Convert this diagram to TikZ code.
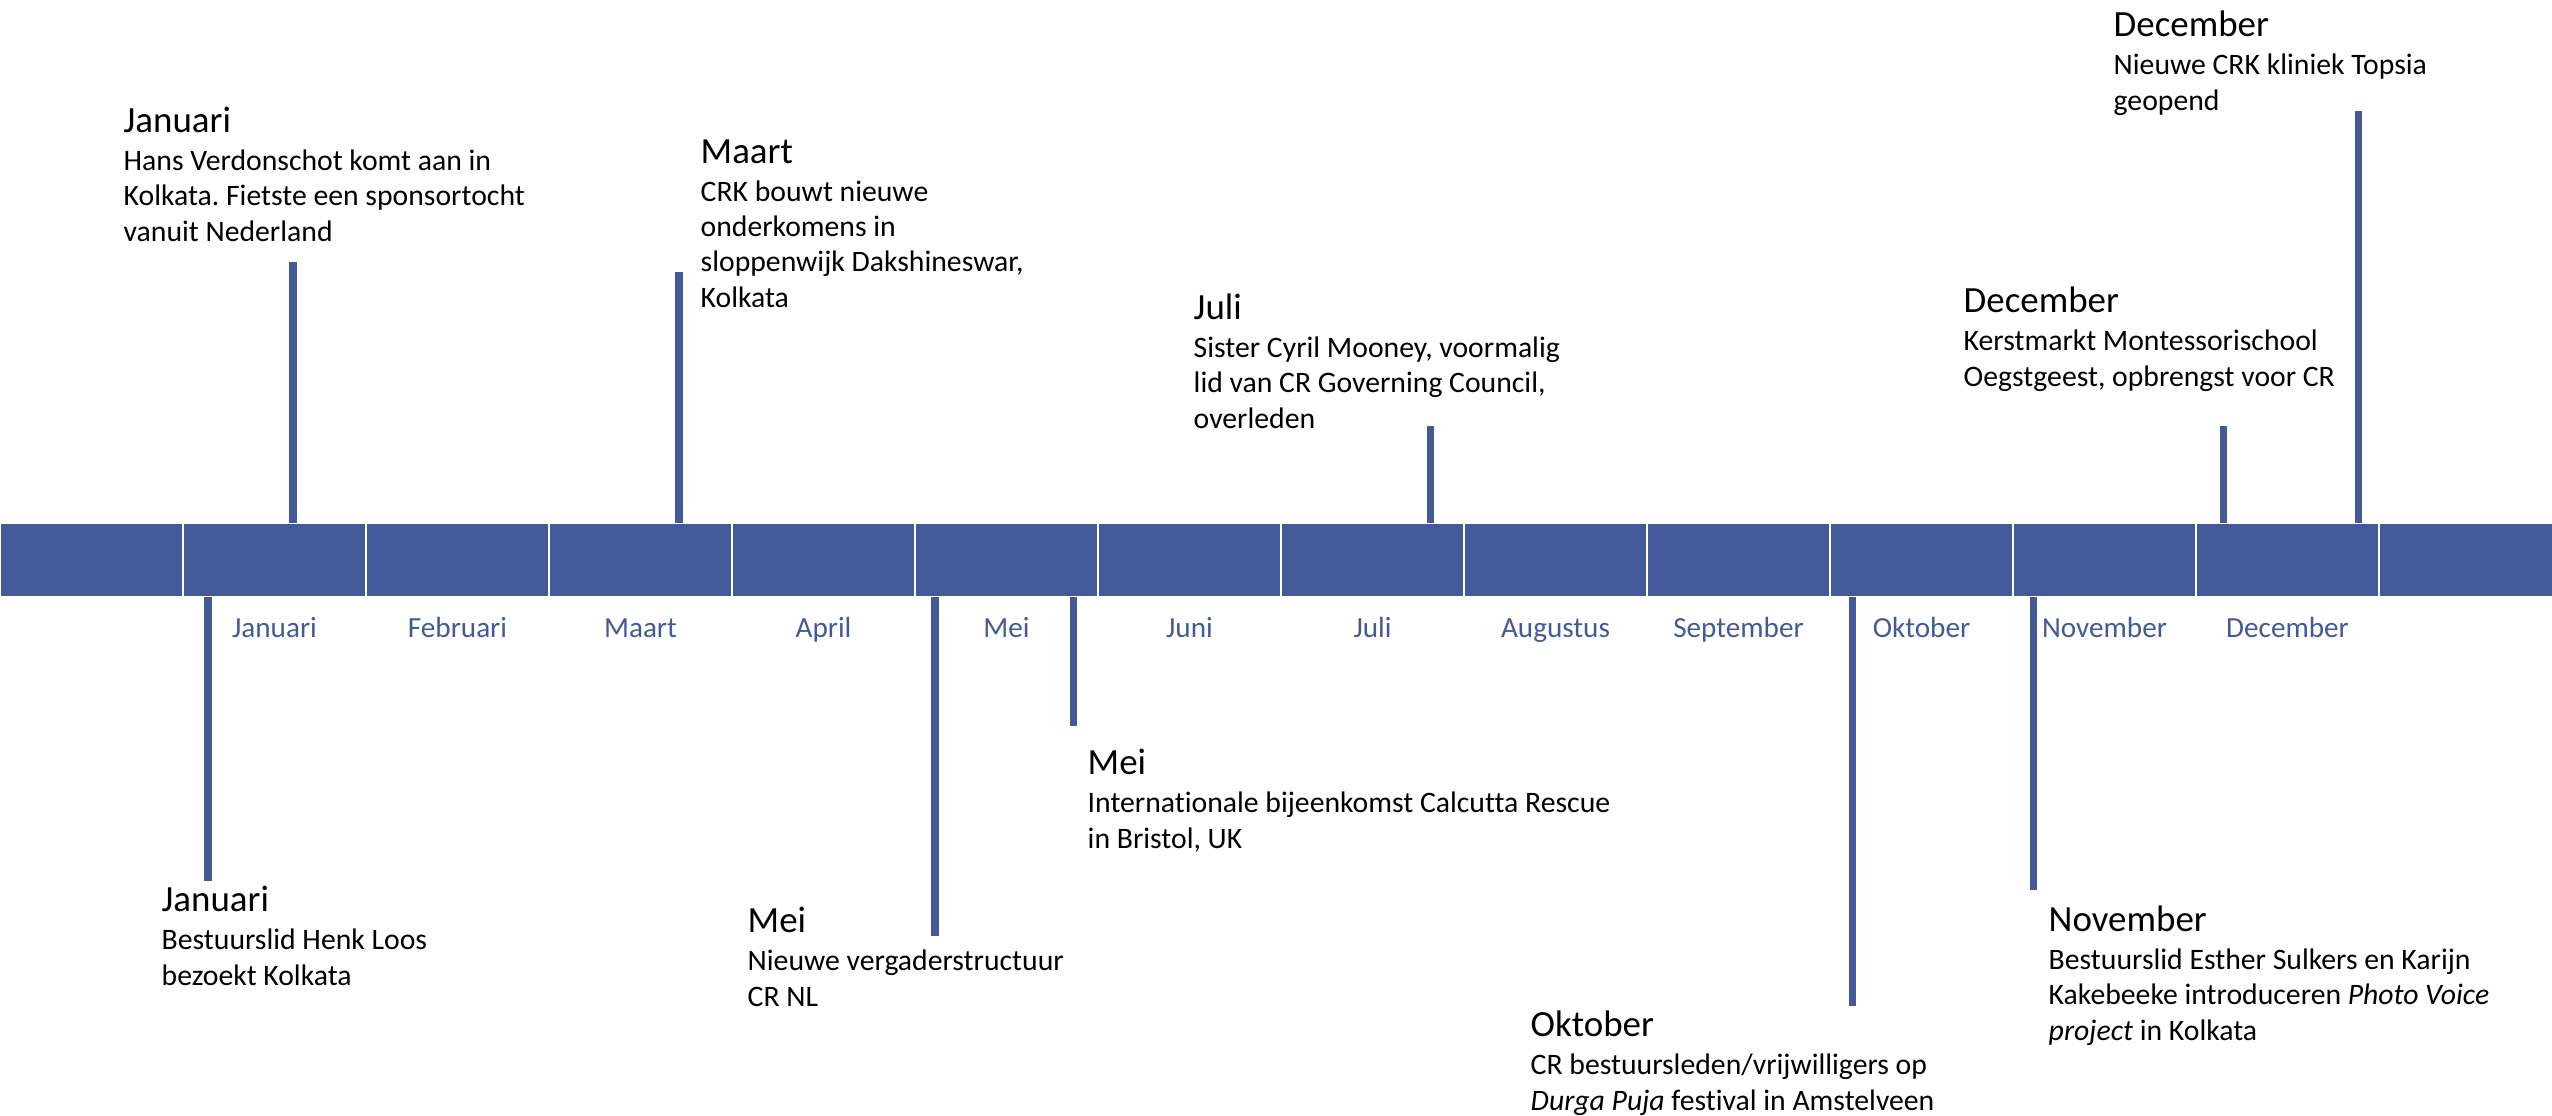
\documentclass[tikz,border=0pt]{standalone}
\usepackage{fontspec}
\setmainfont{Carlito}[Ligatures=NoCommon]
\usepackage{tikz}
\frenchspacing
\definecolor{barblue}{RGB}{68,89,152}
\tikzset{
  seg/.style={fill=barblue, draw=none, inner sep=0pt, minimum width=1.81cm, minimum height=0.72cm},
  mnd/.style={text=barblue, anchor=base, inner sep=0pt, font=\fontsize{8.3}{10}\selectfont},
  event/.style={align=left, anchor=base west, inner sep=0pt, font=\fontsize{8.45}{10}\selectfont},
  stem/.style={draw=barblue, line width=2pt},
}
% kopje boven een gebeurtenis
\newcommand{\kop}[1]{{\fontsize{10.5}{12}\selectfont #1}\\[0.8pt]}

\begin{document}
\begin{tikzpicture}[x=0.01cm, y=-0.01cm]
  \useasboundingbox (0,0) rectangle (2552,1115);
  % de tijdbalk
  \foreach \k in {0,...,13}
    \node[seg] (s\k) at (183*\k+91.5,560) {};
  \foreach \m [count=\k] in {Januari,Februari,Maart,April,Mei,Juni,Juli,Augustus,September,Oktober,November,December}
    \node[mnd] (m\k) at (183*\k+91.5,637) {\m};

  % boven de balk (y = basislijn van de laatste regel)
  \node[event] (ev1) at (123,241) {\kop{Januari}Hans Verdonschot komt aan in\\Kolkata. Fietste een sponsortocht\\vanuit Nederland};
  \node[event] (ev2) at (700,307) {\kop{Maart}CRK bouwt nieuwe\\onderkomens in\\sloppenwijk Dakshineswar,\\Kolkata};
  \node[event] (ev3) at (1193,428) {\kop{Juli}Sister Cyril Mooney, voormalig\\lid van CR Governing Council,\\overleden};
  \node[event] (ev4) at (1963,386) {\kop{December}Kerstmarkt Montessorischool\\Oegstgeest, opbrengst voor CR};
  \node[event] (ev5) at (2113,110) {\kop{December}Nieuwe CRK kliniek Topsia\\geopend};
  % onder de balk
  \node[event] (ev6) at (161,985) {\kop{Januari}Bestuurslid Henk Loos\\bezoekt Kolkata};
  \node[event] (ev7) at (747,1006) {\kop{Mei}Nieuwe vergaderstructuur\\CR NL};
  \node[event] (ev8) at (1087,848) {\kop{Mei}Internationale bijeenkomst Calcutta Rescue\\in Bristol, UK};
  \node[event] (ev9) at (1530,1110) {\kop{Oktober}CR bestuursleden/vrijwilligers op\\\textit{Durga Puja} festival in Amstelveen};
  \node[event] (ev10) at (2048,1040) {\kop{November}Bestuurslid Esther Sulkers en Karijn\\Kakebeeke introduceren \textit{Photo Voice}\\\textit{project} in Kolkata};

  \coordinate (t1) at (293,262);
  \coordinate (t2) at (679,272);
  \coordinate (t3) at (1430,426);
  \coordinate (t4) at (2223,426);
  \coordinate (t5) at (2358,111);
  \coordinate (t6) at (208,881);
  \coordinate (t7) at (935,936);
  \coordinate (t8) at (1073,726);
  \coordinate (t9) at (1852,1006);
  \coordinate (t10) at (2033,890);
  \draw[stem] (s1.north -| t1) -- (t1);
  \draw[stem] (s3.north -| t2) -- (t2);
  \draw[stem] (s7.north -| t3) -- (t3);
  \draw[stem] (s12.north -| t4) -- (t4);
  \draw[stem] (s12.north -| t5) -- (t5);
  \draw[stem] (s1.south -| t6) -- (t6);
  \draw[stem] (s5.south -| t7) -- (t7);
  \draw[stem] (s5.south -| t8) -- (t8);
  \draw[stem] (s10.south -| t9) -- (t9);
  \draw[stem] (s11.south -| t10) -- (t10);
\end{tikzpicture}
\end{document}
